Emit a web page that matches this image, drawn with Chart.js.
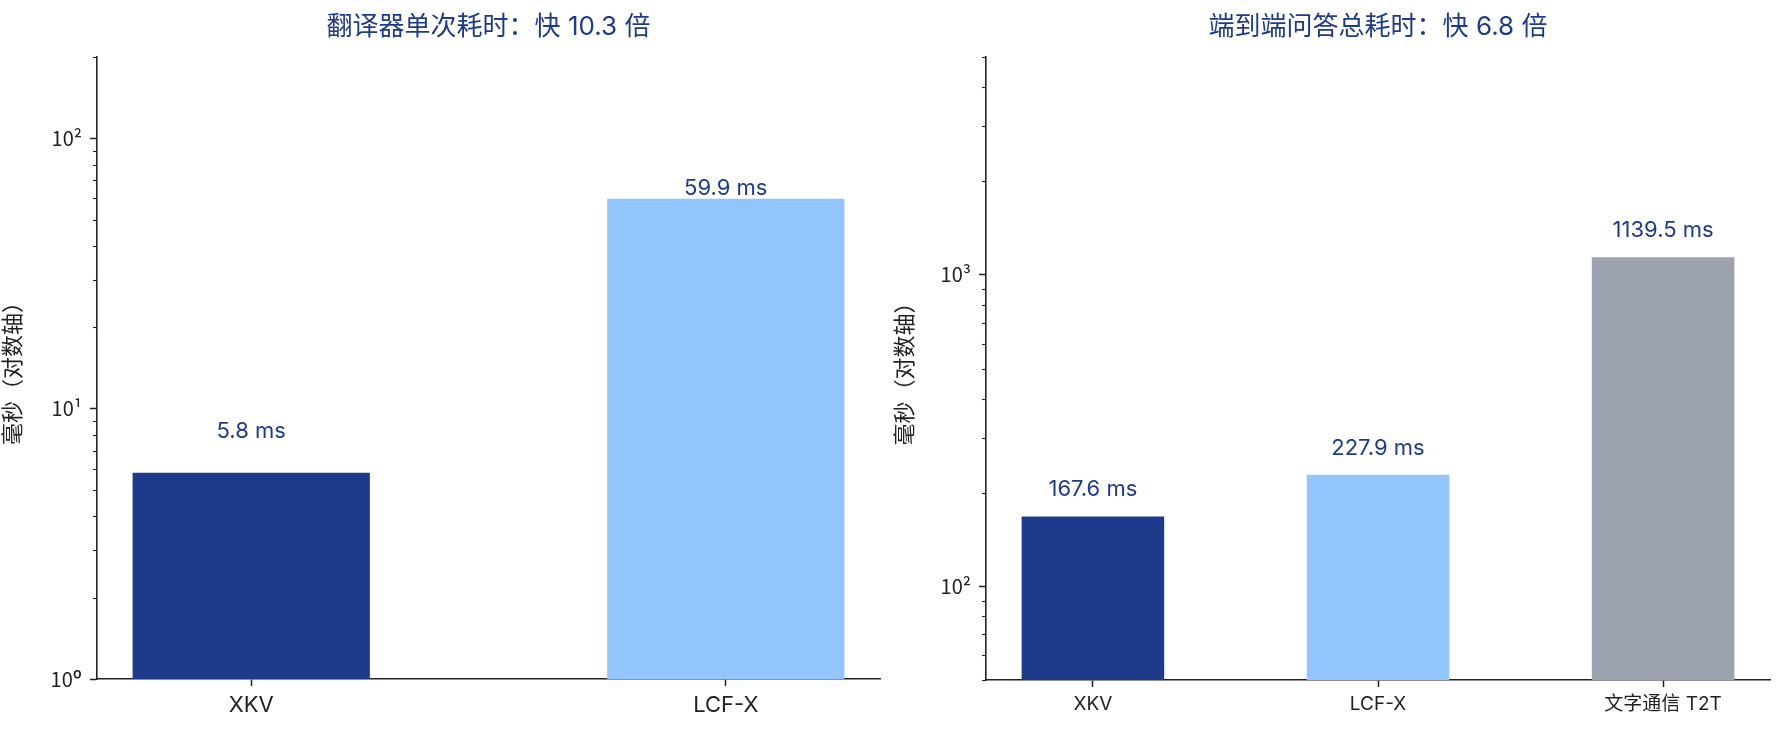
<!DOCTYPE html>
<html>
<head>
<meta charset="utf-8">
<script src="https://cdn.jsdelivr.net/npm/chart.js@4"></script>
<style>
html,body{margin:0;padding:0;background:#fff;}
#wrap{position:relative;width:1785px;height:735px;}
.box{position:absolute;top:0;height:735px;}
#left{left:0;width:892px;}
#right{left:892px;width:893px;}
</style>
</head>
<body>
<div id="wrap">
  <div class="box" id="left"><canvas id="chartA"></canvas></div>
  <div class="box" id="right"><canvas id="chartB"></canvas></div>
</div>
<script>
// data
const leftTitle = "翻译器单次耗时：快 10.3 倍";
const leftCategories = ["XKV", "LCF-X"];
const leftValues = [5.8, 59.9];
const leftColors = ["#1e3a8a", "#93c5fd"];
const leftRange = [1, 200];

const rightTitle = "端到端问答总耗时：快 6.8 倍";
const rightCategories = ["XKV", "LCF-X", "文字通信 T2T"];
const rightValues = [167.6, 227.9, 1139.5];
const rightColors = ["#1e3a8a", "#93c5fd", "#9ca3af"];
const rightRange = [50, 5000];

const yAxisTitle = "毫秒（对数轴）";
const unit = " ms";

const blue = "#1e3a8a";
const ink = "#222";
Chart.defaults.font.family = "Inter, 'Noto Sans CJK SC', sans-serif";

const sup = {"0":"⁰","1":"¹","2":"²","3":"³","4":"⁴"};

function logTicks(min, max){
    const ticks = [];
    for (let e = Math.floor(Math.log10(min)); e <= Math.ceil(Math.log10(max)); e++){
        for (let m = 1; m <= 9; m++){
            const v = m * Math.pow(10, e);
            if (v >= min * 0.999 && v <= max * 1.001) ticks.push({value: v, major: m === 1});
        }
    }
    return ticks;
}

// short minor ticks like matplotlib
const minorTicks = {
    id: "minorTicks",
    afterDraw(chart){
        const s = chart.scales.y;
        const ctx = chart.ctx;
        ctx.save();
        ctx.strokeStyle = ink;
        ctx.lineWidth = 1.1;
        s.ticks.forEach(t => {
            if (t.major) return;
            const y = Math.round(s.getPixelForValue(t.value)) + 0.5;
            ctx.beginPath();
            ctx.moveTo(s.right - 4, y);
            ctx.lineTo(s.right, y);
            ctx.stroke();
        });
        ctx.restore();
    }
};

const valueLabels = {
    id: "valueLabels",
    afterDatasetsDraw(chart, args, opts){
        const ctx = chart.ctx;
        const meta = chart.getDatasetMeta(0);
        const yScale = chart.scales.y;
        ctx.save();
        ctx.font = opts.size + "px " + Chart.defaults.font.family;
        ctx.fillStyle = blue;
        ctx.textAlign = "center";
        ctx.textBaseline = "alphabetic";
        meta.data.forEach((bar, i) => {
            const v = chart.data.datasets[0].data[i].y;
            ctx.fillText(v.toFixed(1) + unit, bar.x, yScale.getPixelForValue(opts.labelAt(v)));
        });
        ctx.restore();
    }
};

function makeChart(id, title, cats, vals, colors, range, o){
    const n = cats.length;
    const pad = 0.25 + 0.05 * (n - 0.5);
    return new Chart(document.getElementById(id), {
        type: "bar",
        data: {
            datasets: [{
                data: vals.map((v, i) => ({x: i, y: v})),
                backgroundColor: colors,
                borderWidth: 0,
                categoryPercentage: 1,
                barPercentage: 0.5
            }]
        },
        options: {
            responsive: true,
            maintainAspectRatio: false,
            animation: false,
            layout: {padding: {left: 0, right: o.padRight, top: 0, bottom: 0}},
            plugins: {
                legend: {display: false},
                tooltip: {enabled: false},
                title: {
                    display: true,
                    fullSize: false,
                    text: title,
                    color: blue,
                    font: {size: 26, weight: "normal", lineHeight: 1.2},
                    padding: {top: 12, bottom: 14}
                },
                valueLabels: {size: 22, labelAt: o.labelAt}
            },
            scales: {
                x: {
                    type: "linear",
                    offset: false,
                    min: -pad,
                    max: n - 1 + pad,
                    afterBuildTicks: s => { s.ticks = cats.map((c, i) => ({value: i})); },
                    afterFit: s => { s.height = o.xHeight; },
                    grid: {offset: false, drawOnChartArea: false, drawTicks: true, tickLength: 7, tickColor: ink, tickWidth: 1.5},
                    border: {display: true, color: ink, width: 1.6},
                    ticks: {
                        color: ink,
                        padding: 6,
                        autoSkip: false,
                        maxRotation: 0,
                        font: {size: o.xFont},
                        callback: v => cats[v]
                    }
                },
                y: {
                    type: "logarithmic",
                    min: range[0],
                    max: range[1],
                    afterBuildTicks: s => { s.ticks = logTicks(range[0], range[1]); },
                    afterFit: s => { s.width = o.yWidth; },
                    grid: {
                        drawOnChartArea: false, drawTicks: true, tickLength: 7, tickWidth: 1.5,
                        tickColor: c => (c.tick && c.tick.major) ? ink : "rgba(0,0,0,0)"
                    },
                    border: {display: true, color: ink, width: 1.6},
                    title: {display: true, text: yAxisTitle, color: ink, font: {size: 22}, padding: {top: 0, bottom: 0}},
                    ticks: {
                        color: ink,
                        padding: 8,
                        autoSkip: false,
                        font: {size: 20, family: "'Noto Sans CJK SC', Inter, sans-serif"},
                        callback: (v, i, ticks) => ticks[i].major ? "10" + sup[Math.round(Math.log10(v))] : ""
                    }
                }
            }
        },
        plugins: [minorTicks, valueLabels]
    });
}

makeChart("chartA", leftTitle, leftCategories, leftValues, leftColors, leftRange, {
    padRight: 12, yWidth: 97, xHeight: 56, xFont: 22,
    labelAt: v => v + 2
});
makeChart("chartB", rightTitle, rightCategories, rightValues, rightColors, rightRange, {
    padRight: 15, yWidth: 94, xHeight: 55, xFont: 19,
    labelAt: v => v * 1.16
});
</script>
</body>
</html>
